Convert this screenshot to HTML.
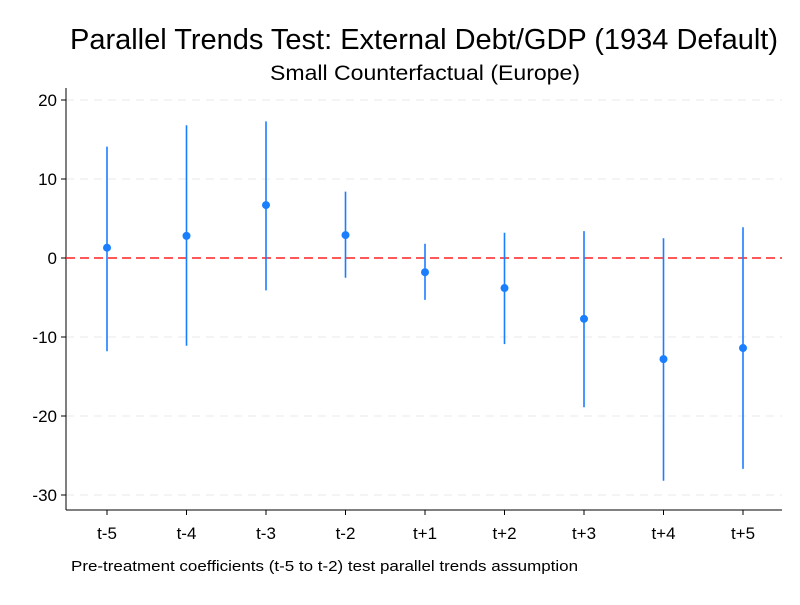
<!DOCTYPE html>
<html><head><meta charset="utf-8"><style>
body{margin:0;background:#fff;font-family:"Liberation Sans",Arial,sans-serif}
svg text{font-family:"Liberation Sans",Arial,sans-serif}
</style></head><body>
<svg id="chart" width="800" height="600">
<rect width="800" height="600" fill="#fff"/>
<text x="424" y="49" font-size="29" text-anchor="middle" fill="#000" textLength="708" lengthAdjust="spacingAndGlyphs">Parallel Trends Test: External Debt/GDP (1934 Default)</text>
<text x="425" y="80" font-size="21" text-anchor="middle" fill="#000" textLength="310" lengthAdjust="spacingAndGlyphs">Small Counterfactual (Europe)</text>
<text x="71" y="571" font-size="15" fill="#000" textLength="507" lengthAdjust="spacingAndGlyphs">Pre-treatment coefficients (t-5 to t-2) test parallel trends assumption</text>
<g id="grid"></g><g id="axes"></g><g id="marks"></g>
</svg>
<script>
const categories=["t-5","t-4","t-3","t-2","t+1","t+2","t+3","t+4","t+5"];
const coefs=[1.3,2.8,6.7,2.9,-1.8,-3.8,-7.7,-12.8,-11.4];
const ciUpper=[14.1,16.8,17.3,8.4,1.8,3.2,3.4,2.5,3.9];
const ciLower=[-11.8,-11.1,-4.1,-2.5,-5.3,-10.9,-18.9,-28.2,-26.7];
const yTicks=[20,10,0,-10,-20,-30];
const NS="http://www.w3.org/2000/svg";
const x0=66,x1=782,yTop=88,yBot=510;
function yS(v){return 258-v*7.9;}
function xS(i){return 107+i*79.5;}
function mk(t,a,p){const e=document.createElementNS(NS,t);for(const k in a)e.setAttribute(k,a[k]);p.appendChild(e);return e;}
const grid=document.getElementById('grid'),axes=document.getElementById('axes'),marks=document.getElementById('marks');
yTicks.forEach(v=>{
  if(v!==0){const g=mk('line',{x1:x0,x2:x1,y1:yS(v),y2:yS(v),stroke:'#e8e8e8','stroke-width':1,'stroke-dasharray':'8,6'},grid);
  
  }
  const t=mk('line',{x1:x0-5,x2:x0,y1:yS(v),y2:yS(v),stroke:'#000'},axes);
  
  
  const l=mk('text',{x:x0-9,y:yS(v)+6,'font-size':17,'text-anchor':'end'},axes);l.textContent=v;
  
  
});
const ya=mk('line',{x1:x0,x2:x0,y1:yTop,y2:yBot,stroke:'#000'},axes);


const xa=mk('line',{x1:x0,x2:x1,y1:yBot,y2:yBot,stroke:'#000'},axes);


const zl=mk('line',{x1:x0,x2:x1,y1:yS(0),y2:yS(0),stroke:'#ff2020','stroke-width':1.5,'stroke-dasharray':'9,5'},marks);


categories.forEach((c,i)=>{
  const x=xS(i);
  const tk=mk('line',{x1:x,x2:x,y1:yBot,y2:yBot+5,stroke:'#000'},axes);
  
  
  const lb=mk('text',{x:x,y:yBot+29,'font-size':17,'text-anchor':'middle'},axes);lb.textContent=c;
  
  
  const ci=mk('line',{x1:x,x2:x,y1:yS(ciUpper[i]),y2:yS(ciLower[i]),stroke:'#1a7fff','stroke-width':1.6},marks);
  
  
  const pt=mk('circle',{cx:x,cy:yS(coefs[i]),r:4,fill:'#1a7fff'},marks);
  
  
});
</script>
</body></html>
